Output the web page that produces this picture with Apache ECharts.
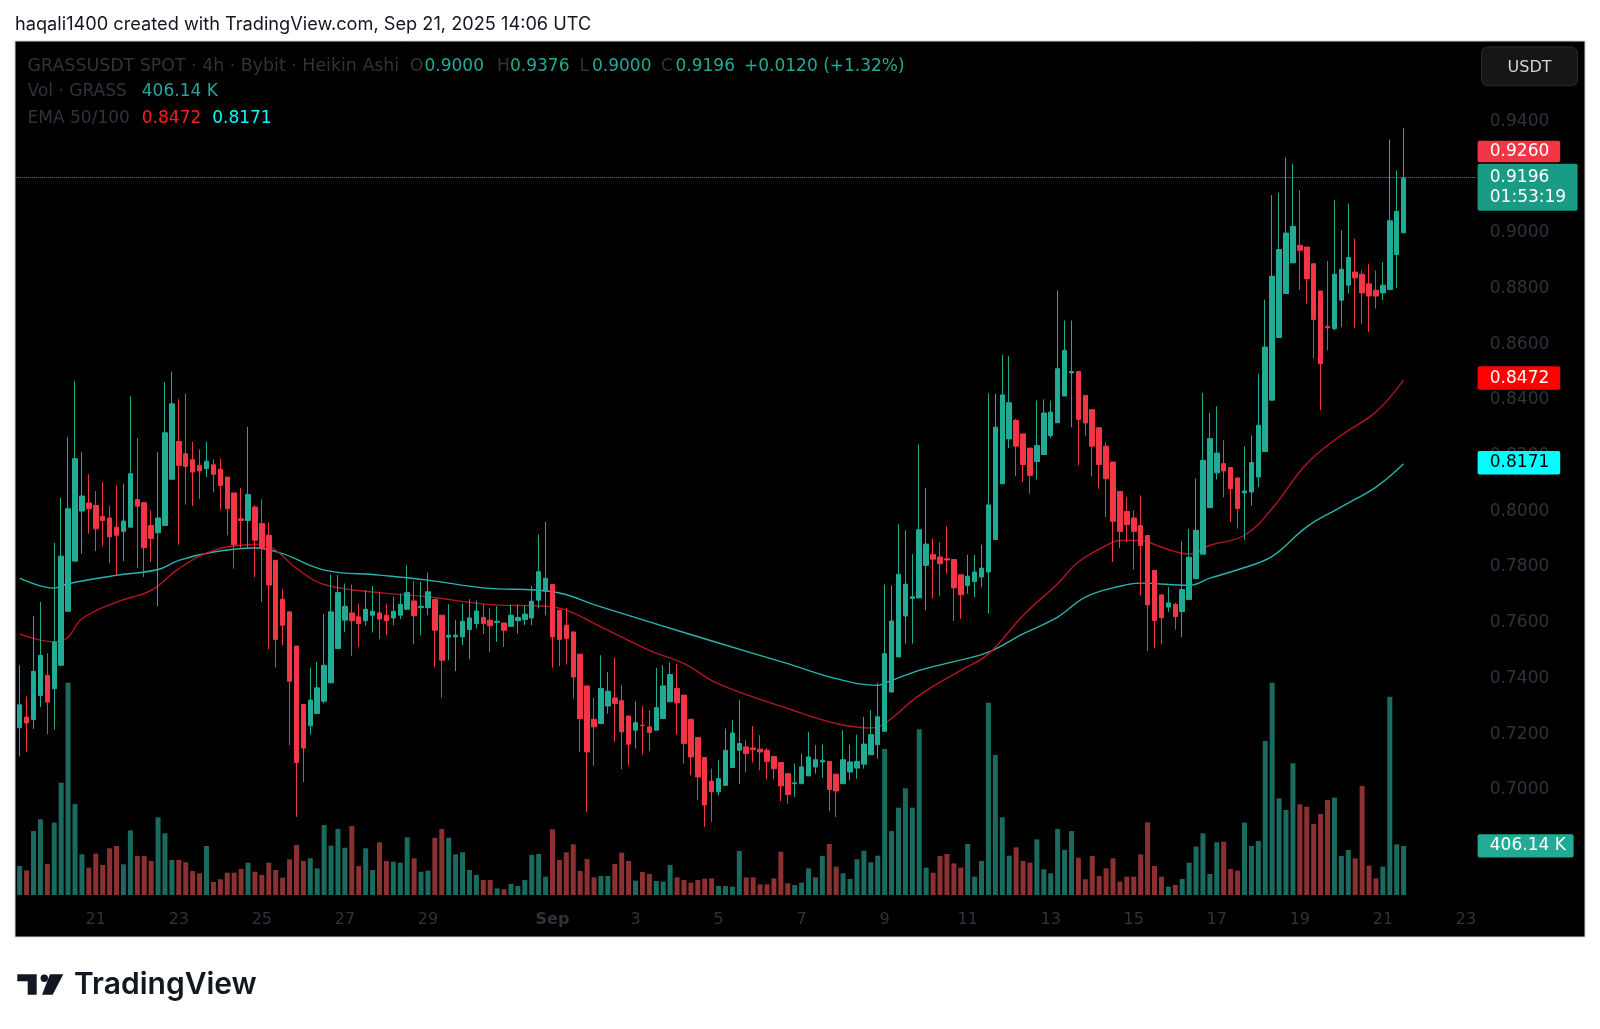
<!DOCTYPE html>
<html>
<head>
<meta charset="utf-8">
<script src="https://cdn.jsdelivr.net/npm/echarts@6/dist/echarts.min.js"></script>
<style>
html,body{margin:0;padding:0;background:#fff;}
#chart{width:1600px;height:1029px;}
</style>
</head>
<body>
<div id="chart"></div>
<script>
// ---------- DATA (GRASSUSDT 4h Heikin Ashi) ----------
const startTimeUTC = '2025-08-19T04:00:00Z';
const slotCount = 211; // visible category slots incl. right-side empty space

const openVals = [
.7223,.7261,.7252,.7339,.7411,.7363,.7447,.7641,.7821,.8001,
.8030,.8021,.7982,.7976,.7943,.7928,.7943,.8042,.8031,.7949,
.7923,.7949,.8115,.8251,.8207,.8185,.8165,.8153,.8167,.8151,
.8123,.8066,.7973,.7967,.8015,.7956,.7914,.7824,.7684,.7639,
.7516,.7306,.7230,.7274,.7318,.7384,.7507,.7609,.7635,.7621,
.7607,.7627,.7635,.7627,.7617,.7627,.7648,.7678,.7654,.7654,
.7683,.7627,.7548,.7549,.7549,.7575,.7597,.7619,.7609,.7601,
.7599,.7587,.7607,.7611,.7617,.7681,.7713,.7737,.7645,.7591,
.7567,.7487,.7373,.7253,.7238,.7301,.7330,.7320,.7265,.7214,
.7232,.7226,.7214,.7256,.7316,.7364,.7340,.7253,.7188,.7116,
.7031,.6993,.7016,.7080,.7142,.7154,.7150,.7146,.7142,.7120,
.7098,.7058,.7022,.7022,.7050,.7082,.7100,.7102,.7056,.7022,
.7064,.7078,.7092,.7126,.7162,.7210,.7351,.7477,.7624,.7687,
.7689,.7806,.7845,.7836,.7830,.7827,.7772,.7734,.7748,.7764,
.7782,.7899,.8099,.8260,.8326,.8278,.8227,.8179,.8204,.8272,
.8318,.8414,.8497,.8502,.8416,.8365,.8300,.8234,.8177,.8071,
.7999,.7976,.7949,.7913,.7788,.7700,.7656,.7665,.7640,.7683,
.7758,.7846,.8013,.8138,.8171,.8157,.8120,.8066,.8069,.8123,
.8215,.8399,.8624,.8782,.8892,.8955,.8949,.8889,.8791,.8664,
.8656,.8758,.8812,.8859,.8851,.8817,.8794,.8784,.8796,.8922,
.9000];

const highVals = [
.7447,.7335,.7624,.7674,.7491,.7887,.8049,.8267,.8467,.8213,
.8133,.8072,.8105,.8019,.8093,.8099,.8413,.8263,.8033,.8003,
.8213,.8464,.8502,.8402,.8422,.8249,.8222,.8251,.8186,.8189,
.8123,.8066,.8084,.8303,.8021,.8043,.7960,.7824,.7720,.7639,
.7516,.7306,.7439,.7459,.7631,.7773,.7771,.7741,.7737,.7669,
.7717,.7732,.7708,.7669,.7693,.7705,.7806,.7749,.7747,.7780,
.7683,.7627,.7666,.7609,.7669,.7684,.7680,.7666,.7653,.7659,
.7599,.7665,.7665,.7663,.7731,.7917,.7962,.7737,.7645,.7653,
.7567,.7487,.7373,.7330,.7483,.7423,.7474,.7376,.7265,.7318,
.7301,.7286,.7438,.7447,.7457,.7453,.7340,.7253,.7188,.7116,
.7076,.7106,.7220,.7250,.7322,.7178,.7229,.7196,.7150,.7120,
.7098,.7058,.7094,.7130,.7208,.7160,.7162,.7102,.7056,.7214,
.7162,.7198,.7262,.7286,.7385,.7737,.7734,.7954,.7932,.7846,
.8240,.8084,.7902,.7888,.7946,.7827,.7772,.7844,.7844,.7880,
.8424,.8422,.8562,.8557,.8332,.8278,.8227,.8398,.8402,.8398,
.8793,.8685,.8685,.8502,.8416,.8365,.8300,.8248,.8177,.8071,
.8051,.8003,.8057,.7913,.7788,.7700,.7728,.7671,.7892,.7937,
.8117,.8425,.8353,.8377,.8255,.8157,.8120,.8233,.8273,.8494,
.8760,.9135,.9143,.9270,.9248,.9153,.8949,.8889,.8791,.8899,
.9117,.9009,.9105,.8979,.8865,.8889,.8865,.8895,.9335,.9224,
.9376];

const lowVals = [
.7120,.7136,.7219,.7297,.7199,.7216,.7447,.7641,.7821,.7848,
.7920,.7857,.7874,.7814,.7770,.7821,.7943,.7797,.7764,.7818,
.7660,.7949,.8115,.7880,.8024,.8019,.8045,.8123,.8069,.8006,
.7914,.7794,.7866,.7866,.7764,.7675,.7505,.7439,.7519,.7160,
.6903,.7028,.7198,.7274,.7310,.7384,.7507,.7567,.7481,.7513,
.7589,.7565,.7541,.7555,.7591,.7613,.7648,.7523,.7555,.7627,
.7441,.7331,.7465,.7426,.7519,.7469,.7579,.7559,.7495,.7531,
.7513,.7587,.7561,.7591,.7591,.7651,.7627,.7439,.7444,.7450,
.7328,.7136,.6921,.7086,.7238,.7274,.7172,.7074,.7088,.7148,
.7127,.7139,.7214,.7256,.7316,.7198,.7094,.7052,.6963,.6867,
.6885,.6981,.7016,.7080,.7020,.7062,.7098,.7070,.7038,.7038,
.6959,.6950,.6974,.7022,.7050,.7058,.7043,.6923,.6903,.7022,
.7034,.7040,.7076,.7126,.7112,.7210,.7351,.7477,.7525,.7525,
.7689,.7645,.7687,.7696,.7776,.7606,.7614,.7704,.7692,.7728,
.7632,.7899,.8099,.8227,.8126,.8105,.8063,.8114,.8204,.8263,
.8318,.8414,.8302,.8165,.8272,.8125,.8081,.7979,.7818,.7868,
.7889,.7791,.7698,.7498,.7509,.7524,.7638,.7575,.7548,.7683,
.7758,.7846,.8013,.8114,.8051,.7962,.7938,.7896,.8021,.8087,
.8215,.8399,.8624,.8782,.8892,.8796,.8746,.8548,.8363,.8578,
.8650,.8662,.8782,.8659,.8674,.8644,.8728,.8758,.8796,.8802,
.9000];

const closeVals = [
.7305,.7240,.7425,.7483,.7315,.7531,.7839,.8009,.8189,.8055,
.8009,.7937,.7967,.7908,.7914,.7965,.8135,.8018,.7869,.7902,
.7976,.8282,.8386,.8165,.8161,.8141,.8145,.8180,.8133,.8093,
.8009,.7880,.7967,.8060,.7896,.7866,.7735,.7540,.7591,.7390,
.7098,.7150,.7322,.7366,.7447,.7639,.7708,.7659,.7607,.7597,
.7648,.7641,.7613,.7607,.7641,.7666,.7708,.7625,.7659,.7711,
.7573,.7465,.7555,.7555,.7605,.7617,.7642,.7597,.7589,.7605,
.7573,.7627,.7619,.7631,.7677,.7783,.7759,.7549,.7540,.7543,
.7405,.7256,.7136,.7226,.7364,.7354,.7310,.7208,.7164,.7241,
.7230,.7206,.7295,.7373,.7414,.7312,.7166,.7118,.7046,.6945,
.6993,.7040,.7142,.7204,.7166,.7130,.7144,.7136,.7102,.7076,
.7014,.6983,.7025,.7082,.7118,.7108,.7106,.7001,.6996,.7108,
.7100,.7102,.7164,.7198,.7262,.7489,.7606,.7774,.7738,.7693,
.7934,.7882,.7828,.7812,.7825,.7725,.7700,.7767,.7782,.7796,
.8023,.8302,.8418,.8390,.8234,.8168,.8129,.8236,.8353,.8356,
.8512,.8578,.8502,.8330,.8317,.8234,.8168,.8117,.7964,.7928,
.7952,.7928,.7877,.7664,.7608,.7618,.7671,.7622,.7719,.7835,
.7932,.8183,.8261,.8209,.8145,.8081,.8010,.8073,.8175,.8309,
.8590,.8844,.8940,.8999,.9023,.8937,.8835,.8689,.8530,.8659,
.8851,.8869,.8911,.8838,.8784,.8773,.8773,.8812,.9043,.9077,
.9196];

// volume in thousands of GRASS
const volumeK = [
240,204,530,627,257,600,931,1760,754,337,
227,343,249,387,406,254,536,323,323,282,
644,511,290,290,271,199,180,406,108,130,
185,185,216,268,193,166,268,207,144,296,
414,282,304,221,580,409,547,392,572,240,
387,207,437,282,276,268,478,304,193,202,
475,547,475,337,354,207,166,124,124,55,
47,91,75,124,332,340,152,544,290,354,
420,199,298,146,157,157,257,351,282,119,
191,174,116,111,249,146,124,102,124,135,
138,75,75,69,365,146,146,88,88,138,
359,97,83,102,221,146,323,423,235,180,
133,296,367,271,326,1210,530,724,884,724,
1373,227,185,323,340,262,227,423,152,282,
1594,1160,644,326,395,282,268,461,213,180,
547,373,530,309,130,323,157,221,304,111,
152,152,337,602,240,152,69,83,133,268,
401,511,174,437,442,216,202,600,406,448,
1277,1760,801,705,1091,752,732,589,671,787,
807,323,373,304,904,243,138,235,1644,420,
406.14];

// EMA lines: [candle index, value]
const ema50Pts = [[0,.7560],[5,.7531],[7,.7548],[9,.7614],[14,.7674],[19,.7716],[23,.7794],[28,.7860],[33,.7880],[35,.7882],[37,.7860],[40,.7795],[44,.7737],[52,.7708],[59,.7693],[68,.7665],[76,.7659],[79,.7645],[84,.7585],[91,.7501],[96,.7453],[101,.7380],[111,.7292],[118,.7238],[123,.7222],[125,.7238],[130,.7339],[136,.7429],[140,.7488],[145,.7626],[150,.7740],[153,.7818],[157,.7877],[159,.7895],[162,.7895],[165,.7871],[169,.7847],[172,.7878],[177,.7914],[181,.8010],[186,.8171],[191,.8273],[196,.8357],[200,.8472]];
const ema100Pts = [[0,.7760],[5,.7724],[7,.7740],[14,.7770],[20,.7791],[23,.7824],[28,.7854],[34,.7868],[38,.7848],[44,.7789],[52,.7771],[59,.7753],[67,.7725],[77,.7711],[84,.7657],[91,.7603],[101,.7527],[111,.7453],[118,.7399],[124,.7375],[125,.7383],[130,.7429],[135,.7460],[140,.7494],[145,.7560],[150,.7620],[154,.7692],[159,.7731],[162,.7742],[169,.7734],[172,.7760],[176,.7790],[181,.7838],[186,.7944],[191,.8016],[196,.8087],[200,.8171]];

// tick labels
const yTickValues = [0.70,0.72,0.74,0.76,0.78,0.80,0.82,0.84,0.86,0.88,0.90,0.92,0.94];
const xTickDates = ['2025-08-21 00:00','2025-08-23 00:00','2025-08-25 00:00','2025-08-27 00:00','2025-08-29 00:00','2025-09-01 00:00','2025-09-03 00:00','2025-09-05 00:00','2025-09-07 00:00','2025-09-09 00:00','2025-09-11 00:00','2025-09-13 00:00','2025-09-15 00:00','2025-09-17 00:00','2025-09-19 00:00','2025-09-21 00:00','2025-09-23 00:00'];
const xTickLabels = ['21','23','25','27','29','Sep','3','5','7','9','11','13','15','17','19','21','23'];

// header values
const lastO = '0.9000', lastH = '0.9376', lastL = '0.9000', lastC = '0.9196';
const lastChange = '+0.0120 (+1.32%)';
const lastVol = '406.14 K';
const ema50Last = '0.8472', ema100Last = '0.8171';
const markRed = '0.9260';
const countdown = '01:53:19';
const lastPrice = 0.9196;

// ---------- BUILD ----------
function pad(n){return (n<10?'0':'')+n;}
const categories = [];
const t0 = Date.parse(startTimeUTC);
for (let i=0;i<slotCount;i++){
  const d = new Date(t0 + i*4*3600*1000);
  categories.push(d.getUTCFullYear()+'-'+pad(d.getUTCMonth()+1)+'-'+pad(d.getUTCDate())+' '+pad(d.getUTCHours())+':00');
}
const candleData = openVals.map((o,i)=>[o, closeVals[i], lowVals[i], highVals[i]]);
const UP='#22ab94', DOWN='#f23645';
const volData = volumeK.map((v,i)=>({value:v, itemStyle:{color: closeVals[i]>=openVals[i] ? '#1b6a5f' : '#8b3131'}}));

const GL = 16.2, GW = 1460.1;
const FONT = 'DejaVu Sans';
const dim = '#30333a';

function txt(x,y,s,fill,size,weight,align){
  return {type:'text', x:x, y:y, z:100, silent:true,
    style:{text:s, fill:fill, font:(weight||'normal')+' '+(size||17)+'px "'+FONT+'"', align:align||'left', verticalAlign:'middle'}};
}
function box(x,y,w,h,fill,r){
  return {type:'rect', z:90, silent:true, shape:{x:x,y:y,width:w,height:h,r:r||2}, style:{fill:fill}};
}

const R1 = 66.3, R2 = 91.8, R3 = 118.3;
const graphics = [
  {type:'rect', z:-10, silent:true, shape:{x:15,y:41,width:1570,height:896}, style:{fill:'#000000', stroke:'#cfcfcf', lineWidth:1}},
  {type:'text', x:15, y:24.5, z:100, silent:true, style:{text:'haqali1400 created with TradingView.com, Sep 21, 2025 14:06 UTC', fill:'#131722', font:'18.2px "Inter"', align:'left', verticalAlign:'middle'}},
  // legend rows
  txt(27.6,R1,'GRASSUSDT SPOT · 4h · Bybit · Heikin Ashi',dim,17.4,'normal'),
  txt(410,R1,'O',dim,17), txt(424.5,R1,lastO,UP,17),
  txt(497,R1,'H',dim,17), txt(510,R1,lastH,UP,17),
  txt(579.6,R1,'L',dim,17), txt(592,R1,lastL,UP,17),
  txt(661,R1,'C',dim,17), txt(675.5,R1,lastC,UP,17),
  txt(744,R1,lastChange,UP,17),
  txt(27.6,R2,'Vol · GRASS',dim,17), txt(141.8,R2,lastVol,'#26a69a',17),
  txt(27.6,R3,'EMA 50/100',dim,17), txt(141.8,R3,ema50Last,'#ff1f1f',17), txt(212.2,R3,ema100Last,'#00ffff',17),
  // USDT button
  {type:'rect', z:90, silent:true, shape:{x:1481.6,y:47,width:96,height:38.7,r:6}, style:{fill:'#161616', stroke:'#2c2c2c', lineWidth:1}},
  txt(1529.6,67.8,'USDT','#d1d4dc',16,'normal','center'),
  // price labels on the scale
  box(1477.6,140.8,82.6,21.4,'#f23645'), txt(1489.8,151.5,markRed,'#ffffff',17),
  box(1477.6,163.8,100,46.9,'#1a9b85'), txt(1489.8,177.3,lastC,'#ffffff',17), txt(1489.8,197.8,countdown,'#ffffff',17),
  box(1477.6,366.3,82.6,23.5,'#ff0000'), txt(1489.8,378.3,ema50Last,'#ffffff',17),
  box(1477.6,451,82.6,23.5,'#00ffff'), txt(1489.8,462.8,ema100Last,'#000000',17),
  box(1477.6,834.2,96,23.4,'#22ab94'), txt(1489.8,846,'406.14 K','#ffffff',17),
  // TradingView logo
  {type:'polygon', z:100, silent:true, shape:{points:[[17.3,974.2],[36.7,974.2],[36.7,994.8],[27.7,994.8],[27.7,981.2],[17.3,981.2]]}, style:{fill:'#131722'}},
  {type:'circle', z:100, silent:true, shape:{cx:44.3,cy:978.2,r:3.7}, style:{fill:'#131722'}},
  {type:'polygon', z:100, silent:true, shape:{points:[[50,974.2],[63.3,974.2],[52.7,994.8],[42,994.8]]}, style:{fill:'#131722'}},
  {type:'text', x:74, y:985, z:100, silent:true, style:{text:'TradingView', fill:'#131722', font:'600 30px "Inter"', align:'left', verticalAlign:'middle'}}
];

const chart = echarts.init(document.getElementById('chart'), null, {renderer:'canvas'});
chart.setOption({
  animation:false,
  backgroundColor:'#ffffff',
  graphic: graphics,
  grid:[
    {left:GL, width:GW, top:65.7, height:835.5, containLabel:false},
    {left:GL, width:GW, top:653.7, height:241.3, containLabel:false}
  ],
  xAxis:[
    {type:'category', gridIndex:0, data:categories, boundaryGap:true,
     axisLine:{show:false}, axisTick:{show:false}, axisLabel:{show:false}, splitLine:{show:false}},
    {type:'category', gridIndex:1, data:categories, boundaryGap:true,
     axisLine:{show:false}, axisTick:{show:false}, splitLine:{show:false},
     axisLabel:{show:true, margin:17, color:dim, fontSize:16, fontFamily:FONT,
       interval:function(idx,val){return xTickDates.indexOf(val)>=0;},
       formatter:function(val){const k=xTickDates.indexOf(val); if(k<0) return ''; const s=xTickLabels[k]; return s==='Sep'?'{b|'+s+'}':s;},
       rich:{b:{fontWeight:'bold', color:dim, fontSize:16, fontFamily:FONT}}}}
  ],
  yAxis:[
    {type:'value', gridIndex:0, position:'right', min:0.66, max:0.96, interval:0.02, scale:true,
     axisLine:{show:false}, axisTick:{show:false}, splitLine:{show:false},
     axisLabel:{show:true, inside:false, margin:13.5, align:'left', color:dim, fontSize:17, fontFamily:FONT,
       formatter:function(v){const r=Math.round(v*100)/100; return yTickValues.some(t=>Math.abs(t-r)<1e-9)? r.toFixed(4):'';}}},
    {type:'value', gridIndex:1, min:0, max:2000, show:false}
  ],
  series:[
    {type:'bar', name:'Vol', xAxisIndex:1, yAxisIndex:1, data:volData, barWidth:5, z:1, silent:true},
    {type:'line', name:'EMA100', xAxisIndex:0, yAxisIndex:0, data:ema100Pts, showSymbol:false, symbol:'none', smooth:0.4,
     lineStyle:{color:'#27b5ad', width:1.4}, z:3, silent:true},
    {type:'line', name:'EMA50', xAxisIndex:0, yAxisIndex:0, data:ema50Pts, showSymbol:false, symbol:'none', smooth:0.4,
     lineStyle:{color:'#b3161f', width:1.4}, z:3, silent:true},
    {type:'candlestick', name:'GRASSUSDT', xAxisIndex:0, yAxisIndex:0, data:candleData, barWidth:5, z:5,
     itemStyle:{color:UP, color0:DOWN, borderColor:UP, borderColor0:DOWN, borderWidth:1},
     markLine:{silent:true, symbol:['none','none'], label:{show:false},
       lineStyle:{type:'dotted', color:'#22ab94', width:1}, data:[{yAxis:lastPrice}]}}
  ]
});
</script>
</body>
</html>
